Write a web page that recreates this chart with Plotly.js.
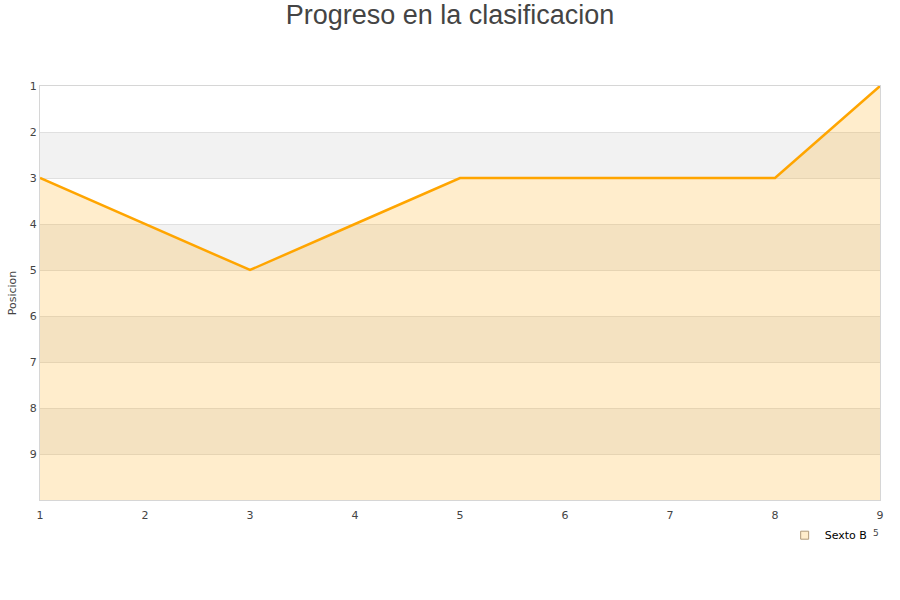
<!DOCTYPE html>
<html>
<head>
<meta charset="utf-8">
<script src="https://cdn.plot.ly/plotly-3.0.1.min.js"></script>
<style>
  html, body { margin: 0; padding: 0; background: #ffffff; }
  #chart { width: 900px; height: 600px; }
</style>
</head>
<body>
<div id="chart"></div>
<script>
// Round-by-round league position of the team
const jornadas = [1, 2, 3, 4, 5, 6, 7, 8, 9];
const posiciones = [3, 4, 5, 4, 3, 3, 3, 3, 1];
const equipo = 'Sexto B';
const yTicks = [1, 2, 3, 4, 5, 6, 7, 8, 9];
const ultimaPosicion = 10;

const lineColor = '#ffa500';
const fillColor = 'rgba(255,165,0,0.2)';

// Alternating horizontal bands behind the data
const bands = [];
for (let p = 2; p < ultimaPosicion; p += 2) {
  bands.push({
    type: 'rect', xref: 'paper', yref: 'y', layer: 'below',
    x0: 0, x1: 1, y0: p, y1: p + 1,
    fillcolor: '#f2f2f2', line: { width: 0 }
  });
}

const baseline = {
  x: jornadas,
  y: jornadas.map(() => ultimaPosicion),
  mode: 'lines', line: { width: 0 },
  hoverinfo: 'skip', showlegend: false
};

const serie = {
  x: jornadas,
  y: posiciones,
  name: equipo,
  mode: 'lines',
  fill: 'tonexty',
  fillcolor: fillColor,
  line: { color: lineColor, width: 2.5 },
  showlegend: false
};

const leyenda = {
  x: [null], y: [null],
  name: equipo,
  mode: 'markers',
  marker: { symbol: 'square', size: 8, color: '#ffedcc', line: { color: '#b09a7a', width: 1 } },
  showlegend: true
};

const layout = {
  width: 900, height: 600,
  margin: { l: 40, r: 20, t: 86, b: 100 },
  paper_bgcolor: '#ffffff',
  plot_bgcolor: 'rgba(0,0,0,0)',
  font: { family: 'DejaVu Sans, Verdana, sans-serif', size: 11, color: '#444444' },
  title: {
    text: 'Progreso en la clasificacion',
    font: { family: 'Liberation Sans, Arial, sans-serif', size: 27, color: '#444444' },
    x: 0.5, xanchor: 'center', y: 0.975, yanchor: 'middle'
  },
  xaxis: {
    range: [1, 9], tickvals: jornadas, ticks: '',
    ticklabelstandoff: 5,
    showgrid: false, zeroline: false,
    showline: true, linecolor: '#d6d6d6', linewidth: 1, mirror: true,
    tickfont: { size: 11, color: '#444444' }
  },
  yaxis: {
    range: [ultimaPosicion, 1], tickvals: yTicks, ticks: '',
    showgrid: true, gridcolor: '#e0e0e0', gridwidth: 1, zeroline: false,
    showline: true, linecolor: '#d6d6d6', linewidth: 1, mirror: true,
    tickfont: { size: 11, color: '#444444' },
    title: { text: 'Posicion', font: { size: 11, color: '#444444' }, standoff: 10 }
  },
  shapes: bands,
  legend: {
    x: 0.8865, y: -0.05, xanchor: 'left', yanchor: 'top',
    bgcolor: 'rgba(0,0,0,0)', font: { size: 11, color: '#000000' }
  },
  annotations: [{
    text: '5', xref: 'paper', yref: 'paper', x: 0.995, y: -0.08,
    xanchor: 'center', yanchor: 'middle', showarrow: false,
    font: { size: 9, color: '#444444' }
  }],
  showlegend: true
};

Plotly.newPlot('chart', [baseline, serie, leyenda], layout, { displayModeBar: false, staticPlot: true });
</script>
</body>
</html>
